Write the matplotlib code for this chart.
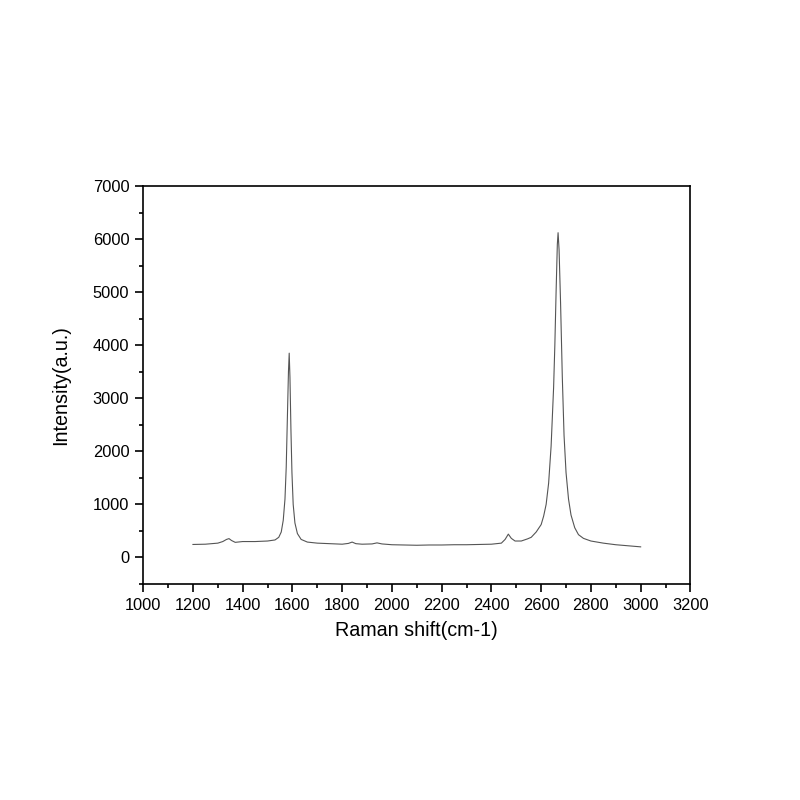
import matplotlib
matplotlib.use('Agg')
import matplotlib.pyplot as plt
from matplotlib.ticker import MultipleLocator

plt.rcParams['font.family'] = ['Liberation Sans', 'DejaVu Sans']

# --- Raman spectrum, values ---
shift = [1200, 1250, 1300, 1320, 1335, 1345, 1355, 1370, 1400, 1450, 1500, 1530, 1545, 1555,
         1563, 1570, 1575, 1580, 1584, 1587, 1590, 1594, 1598, 1603, 1610, 1620, 1635, 1660,
         1700, 1750, 1800, 1825, 1840, 1855, 1880, 1920, 1940, 1960, 2000, 2050, 2100, 2150,
         2200, 2250, 2300, 2350, 2400, 2440, 2455, 2468, 2480, 2495, 2520, 2545, 2560, 2580,
         2600, 2610, 2620, 2630, 2640, 2650, 2655, 2660, 2665, 2668, 2672, 2678, 2685, 2692,
         2700, 2710, 2720, 2735, 2750, 2770, 2800, 2850, 2900, 2950, 3000]
intensity = [245, 250, 270, 300, 340, 355, 320, 285, 300, 300, 310, 330, 380, 480,
             700, 1100, 1700, 2700, 3500, 3850, 3400, 2400, 1600, 1000, 650, 450, 340, 290,
             270, 260, 250, 265, 290, 260, 250, 255, 275, 255, 240, 235, 230, 235,
             235, 240, 240, 245, 250, 270, 340, 440, 360, 310, 310, 350, 380, 480,
             620, 780, 1000, 1400, 2100, 3200, 4000, 5000, 5900, 6120, 5800, 4800, 3400, 2300,
             1600, 1100, 800, 560, 430, 360, 310, 270, 240, 220, 200]

fig = plt.figure(figsize=(8, 8), dpi=100)
ax = fig.add_axes([0.179, 0.27, 0.684, 0.4975])

ax.plot(shift, intensity, color='#555555', linewidth=0.8)

ax.set_xlim(1000, 3200)
ax.set_ylim(-500, 7000)
ax.xaxis.set_major_locator(MultipleLocator(200))
ax.xaxis.set_minor_locator(MultipleLocator(100))
ax.yaxis.set_major_locator(MultipleLocator(1000))
ax.yaxis.set_minor_locator(MultipleLocator(500))

ax.tick_params(which='both', direction='out', top=False, right=False, width=1.2, labelsize=11.8)
ax.tick_params(which='major', length=6, pad=4)
ax.tick_params(which='minor', length=3)
for s in ax.spines.values():
    s.set_linewidth(1.2)

ax.set_xlabel('Raman shift(cm-1)', fontsize=14.2, labelpad=6)
ax.set_ylabel('Intensity(a.u.)', fontsize=14.2, labelpad=16)

fig.savefig('out.png', dpi=100)
